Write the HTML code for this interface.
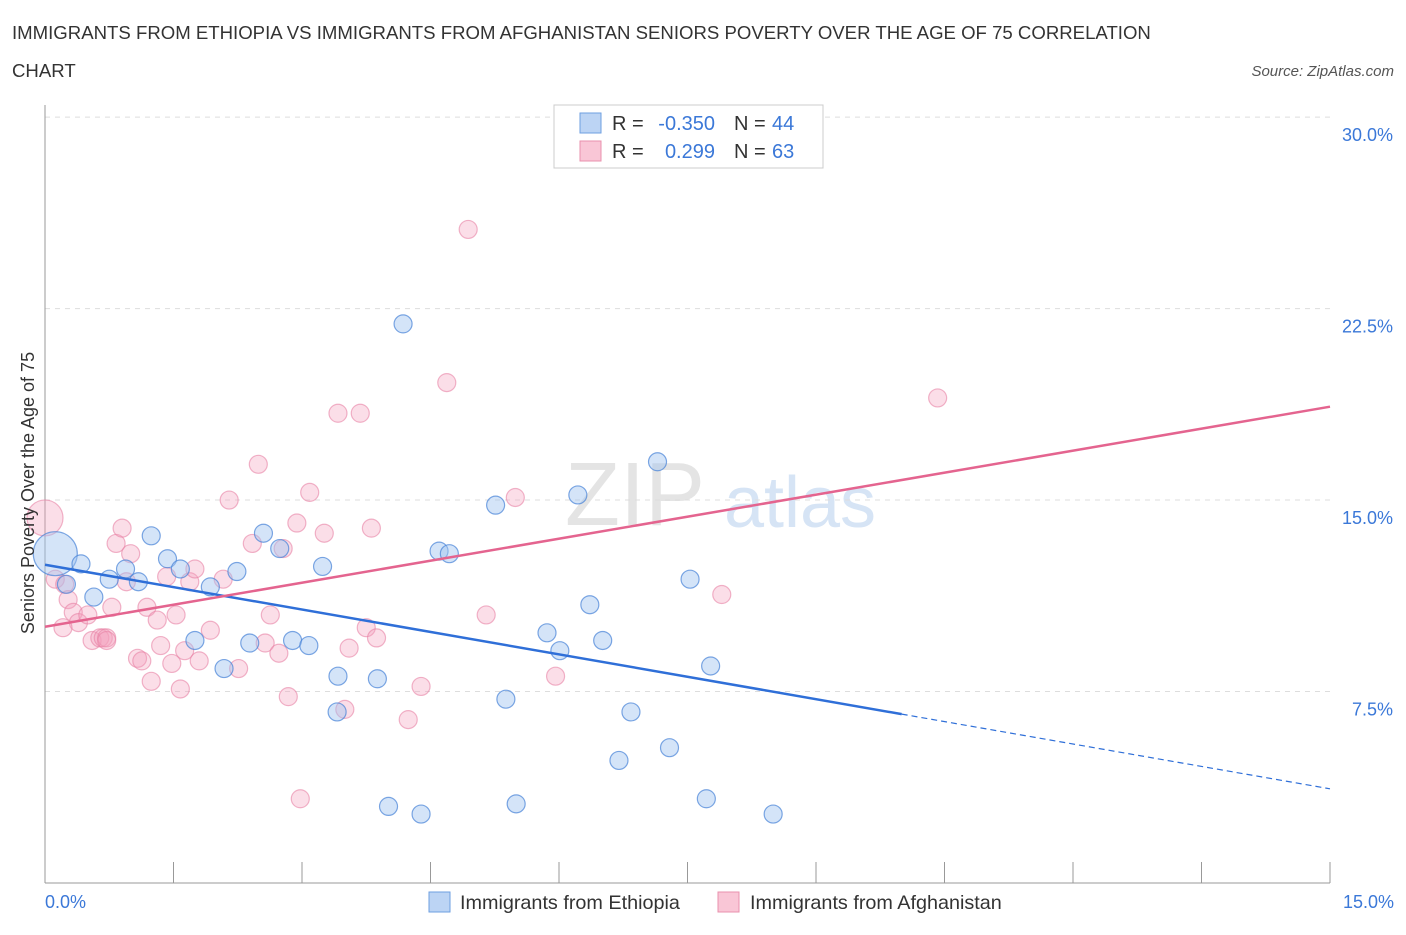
<!DOCTYPE html>
<html><head><meta charset="utf-8"><style>
body{margin:0;background:#fff;font-family:"Liberation Sans",sans-serif;}
svg text{font-family:"Liberation Sans",sans-serif;}
</style></head><body>
<svg id="chart" width="1406" height="930">
<text x="12" y="39" font-size="18.6" fill="#333">IMMIGRANTS FROM ETHIOPIA VS IMMIGRANTS FROM AFGHANISTAN SENIORS POVERTY OVER THE AGE OF 75 CORRELATION</text>
<text x="12" y="77" font-size="18.6" fill="#333">CHART</text>
<text x="1394" y="76" font-size="15" fill="#555" font-style="italic" text-anchor="end">Source: ZipAtlas.com</text>
<text x="635" y="525" font-size="90" fill="#e4e4e4" font-family="Liberation Serif" text-anchor="middle">ZIP</text>
<text x="800" y="527" font-size="72" fill="#d6e4f5" text-anchor="middle">atlas</text>
<g id="grid"></g><g id="axes"></g><g id="marks"></g>
<text x="34" y="493" font-size="18" fill="#333" transform="rotate(-90 34 493)" text-anchor="middle">Seniors Poverty Over the Age of 75</text>
<text x="45" y="908" font-size="18" fill="#3b78d8">0.0%</text>
<text x="1394" y="908" font-size="18" fill="#3b78d8" text-anchor="end">15.0%</text>
<g>
<rect x="554" y="105" width="269" height="63" fill="#fff" stroke="#ccc"/>
<rect x="580" y="113" width="21" height="20" fill="#bcd4f4" stroke="#6e9fe0"/>
<rect x="580" y="141" width="21" height="20" fill="#f9c6d6" stroke="#e990ad"/>
<text x="612" y="130" font-size="20" fill="#333">R =</text>
<text x="715" y="130" font-size="20" fill="#3b78d8" text-anchor="end">-0.350</text>
<text x="734" y="130" font-size="20" fill="#333">N =</text>
<text x="772" y="130" font-size="20" fill="#3b78d8">44</text>
<text x="612" y="158" font-size="20" fill="#333">R =</text>
<text x="715" y="158" font-size="20" fill="#3b78d8" text-anchor="end">0.299</text>
<text x="734" y="158" font-size="20" fill="#333">N =</text>
<text x="772" y="158" font-size="20" fill="#3b78d8">63</text>
</g>
<g>
<rect x="429" y="892" width="21" height="20" fill="#bcd4f4" stroke="#6e9fe0"/>
<text x="460" y="909" font-size="19.8" fill="#333">Immigrants from Ethiopia</text>
<rect x="718" y="892" width="21" height="20" fill="#f9c6d6" stroke="#e990ad"/>
<text x="750" y="909" font-size="19.8" fill="#333">Immigrants from Afghanistan</text>
</g>
</svg>
<script>
const yTicks=[7.5,15,22.5,30];
const yTickLabels=["7.5%","15.0%","22.5%","30.0%"];
const xTicks=[0,1.5,3,4.5,6,7.5,9,10.5,12,13.5,15];
const ethX=[0.12,0.25,0.42,0.57,0.75,0.94,1.09,1.24,1.43,1.58,1.75,1.93,2.09,2.24,2.39,2.55,2.74,2.89,3.08,3.24,3.41,3.42,3.88,4.01,4.18,4.39,4.6,4.72,5.26,5.38,5.5,5.86,6.01,6.22,6.36,6.51,6.7,6.84,7.15,7.29,7.53,7.72,7.77,8.5];
const ethY=[12.9,11.7,12.5,11.2,11.9,12.3,11.8,13.6,12.7,12.3,9.5,11.6,8.4,12.2,9.4,13.7,13.1,9.5,9.3,12.4,6.7,8.1,8.0,3.0,21.9,2.7,13.0,12.9,14.8,7.2,3.1,9.8,9.1,15.2,10.9,9.5,4.8,6.7,16.5,5.3,11.9,3.3,8.5,2.7];
const ethR=[22,9,9,9,9,9,9,9,9,9,9,9,9,9,9,9,9,9,9,9,9,9,9,9,9,9,9,9,9,9,9,9,9,9,9,9,9,9,9,9,9,9,9,9];
const afgX=[0.0,0.12,0.23,0.27,0.33,0.39,0.21,0.5,0.55,0.64,0.68,0.72,0.78,0.83,0.9,0.95,1.0,1.08,1.13,1.19,1.24,1.31,1.35,1.42,1.48,1.53,1.58,1.63,1.69,1.75,1.8,1.93,2.08,2.15,2.26,2.42,2.49,2.57,2.63,2.73,2.78,2.84,2.94,2.98,3.09,3.26,3.42,3.5,3.55,3.68,3.75,3.81,3.87,4.24,4.39,4.69,4.94,5.15,5.49,5.96,7.9,10.42,0.72];
const afgY=[14.3,11.9,11.7,11.1,10.6,10.2,10.0,10.5,9.5,9.6,9.6,9.6,10.8,13.3,13.9,11.8,12.9,8.8,8.7,10.8,7.9,10.3,9.3,12.0,8.6,10.5,7.6,9.1,11.8,12.3,8.7,9.9,11.9,15.0,8.4,13.3,16.4,9.4,10.5,9.0,13.1,7.3,14.1,3.3,15.3,13.7,18.4,6.8,9.2,18.4,10.0,13.9,9.6,6.4,7.7,19.6,25.6,10.5,15.1,8.1,11.3,19.0,9.5];
const X0=45,X1=1330,Y0=883,YS=25.53;
function xs(v){return X0+(v/15)*(X1-X0);}
function ys(v){return Y0-v*YS;}
const NS="http://www.w3.org/2000/svg";
function mk(tag,attrs,parent){const e=document.createElementNS(NS,tag);for(const k in attrs)e.setAttribute(k,attrs[k]);parent.appendChild(e);return e;}
const grid=document.getElementById('grid'),axes=document.getElementById('axes'),marks=document.getElementById('marks');
yTicks.forEach((t,i)=>{
 const l=mk('line',{x1:45,x2:1330,y1:ys(t),y2:ys(t),stroke:'#ddd','stroke-dasharray':'5,5'},grid);
 
 
 const tx=mk('text',{x:1393,y:ys(t)+24,'font-size':18,fill:'#3b78d8','text-anchor':'end'},grid);
 tx.textContent=yTickLabels[i];
 
 
});
const ya=mk('line',{x1:45,x2:45,y1:105,y2:883,stroke:'#999'},axes);


const xa=mk('line',{x1:45,x2:1330,y1:883,y2:883,stroke:'#999'},axes);


xTicks.forEach(t=>{
 const l=mk('line',{x1:xs(t),x2:xs(t),y1:862,y2:883,stroke:'#999'},axes);
 
 
});
function fit(X,Y){const n=X.length;let mx=0,my=0;for(let i=0;i<n;i++){mx+=X[i];my+=Y[i];}mx/=n;my/=n;let sxy=0,sxx=0;for(let i=0;i<n;i++){sxy+=(X[i]-mx)*(Y[i]-my);sxx+=(X[i]-mx)**2;}const b=sxy/sxx;return [my-b*mx,b];}
afgX.forEach((x,i)=>{
 const c=mk('circle',{cx:xs(x),cy:ys(afgY[i]),r:i==0?18:9,fill:'rgba(244,160,188,0.35)',stroke:'rgba(232,130,165,0.6)','stroke-width':1.2},marks);
 
 
});
ethX.forEach((x,i)=>{
 const c=mk('circle',{cx:xs(x),cy:ys(ethY[i]),r:ethR[i],fill:'rgba(160,195,240,0.45)',stroke:'rgba(70,130,215,0.7)','stroke-width':1.2},marks);
 
 
});
const fe=fit(ethX,ethY),fa=fit(afgX,afgY);
const be=mk('line',{x1:xs(0),y1:ys(fe[0]),x2:xs(10),y2:ys(fe[0]+fe[1]*10),stroke:'#2f6fd8','stroke-width':2.5},marks);


const bd=mk('line',{x1:xs(10),y1:ys(fe[0]+fe[1]*10),x2:xs(15),y2:ys(fe[0]+fe[1]*15),stroke:'#2f6fd8','stroke-width':1.2,'stroke-dasharray':'6,4'},marks);


const pl=mk('line',{x1:xs(0),y1:ys(fa[0]),x2:xs(15),y2:ys(fa[0]+fa[1]*15),stroke:'#e4648f','stroke-width':2.5},marks);


</script>
</body></html>
